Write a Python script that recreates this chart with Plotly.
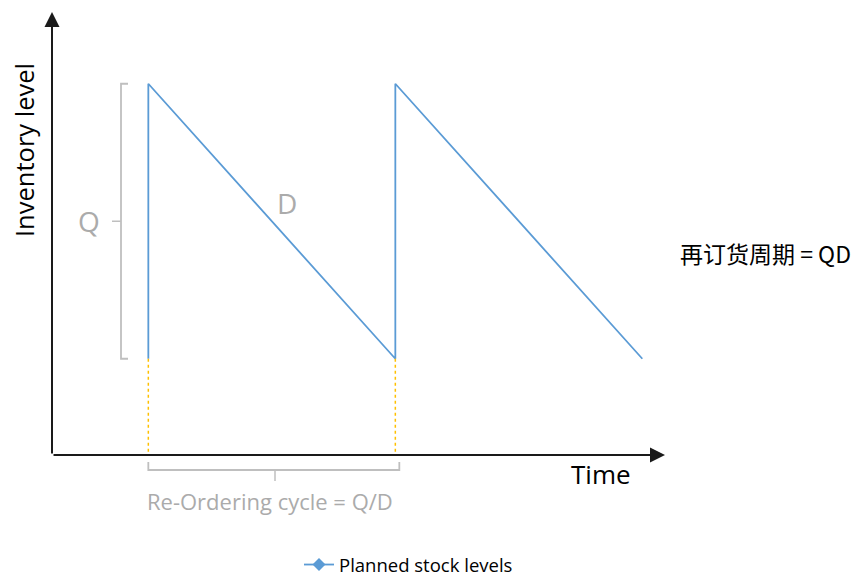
import plotly.graph_objects as go

# ---- data ----
time_pts = [0.39, 0.39, 1.39, 1.39, 2.39]      # time (cycle units)
stock_lvls = [0.35, 1.35, 0.35, 1.35, 0.35]    # inventory level (Q units)
reorder_times = [0.39, 1.39]
series_name = "Planned stock levels"

low = min(stock_lvls)
high = max(stock_lvls)
mid = (low + high) / 2

# page offset (body margin) and pixel scale: 1 time unit = 247 px, 1 stock unit = 275 px
OFF = 8
W, H = 860, 576
XPX, YPX = 247.0, 275.0
x0px, y0px = 52 - OFF, 455 - OFF
xr = [-x0px / XPX, (W - x0px) / XPX]
yr = [-(H - y0px) / YPX, y0px / YPX]

def tx(px):
    return (px - OFF - x0px) / XPX

def ty(py):
    return (y0px - (py - OFF)) / YPX

blue = "#5B9BD5"
gray = "#BFBFBF"
gray_txt = "#ABABAB"
orange = "#FFC000"
font = "Open Sans"

fig = go.Figure()
fig.add_trace(go.Scatter(
    x=time_pts, y=stock_lvls, mode="lines", name=series_name,
    line=dict(color=blue, width=1.8), showlegend=False, hoverinfo="skip"))
# legend entry with diamond markers
fig.add_trace(go.Scatter(
    x=[None], y=[None], mode="lines+markers", name=series_name,
    line=dict(color=blue, width=1.8),
    marker=dict(symbol="diamond", size=10, color=blue)))

shapes = []
# orange dotted drop lines
for t in reorder_times:
    shapes.append(dict(type="line", xref="x", yref="y", x0=t, x1=t, y0=low, y1=0,
                       line=dict(color=orange, width=1.5, dash="dot")))
# Q bracket (left)
bx = tx(121)
shapes.append(dict(type="path", xref="x", yref="y",
                   path=f"M{tx(128)},{high} L{bx},{high} L{bx},{low} L{tx(128)},{low}",
                   line=dict(color=gray, width=1.8)))
shapes.append(dict(type="line", xref="x", yref="y", x0=tx(112), x1=bx, y0=mid, y1=mid,
                   line=dict(color=gray, width=1.5)))
# bottom bracket
by = ty(470)
t0, t1 = reorder_times[0], reorder_times[1] + (tx(399) - tx(395))
shapes.append(dict(type="path", xref="x", yref="y",
                   path=f"M{t0},{ty(462)} L{t0},{by} L{t1},{by} L{t1},{ty(462)}",
                   line=dict(color=gray, width=1.8)))
tm = tx(275)
shapes.append(dict(type="line", xref="x", yref="y", x0=tm, x1=tm, y0=by, y1=ty(481),
                   line=dict(color=gray, width=1.5)))

ann = []
# axes arrows
ann.append(dict(x=0, y=ty(12), ax=0, ay=0, xref="x", yref="y", axref="x", ayref="y",
                showarrow=True, arrowhead=2, arrowsize=1.5, arrowwidth=2,
                arrowcolor="#1a1a1a", standoff=0, text=""))
ann.append(dict(x=tx(665), y=0, ax=0, ay=0, xref="x", yref="y", axref="x", ayref="y",
                showarrow=True, arrowhead=2, arrowsize=1.5, arrowwidth=2,
                arrowcolor="#1a1a1a", standoff=0, text=""))
ann.append(dict(x=tx(24), y=ty(150), text="Inventory level", textangle=-90, showarrow=False,
                font=dict(family=font, size=25.5, color="black")))
ann.append(dict(x=tx(601), y=ty(474), text="Time", showarrow=False,
                font=dict(family=font, size=26, color="black")))
ann.append(dict(x=tx(89), y=ty(221), text="Q", showarrow=False,
                font=dict(family=font, size=28, color=gray_txt)))
ann.append(dict(x=tx(287), y=ty(203), text="D", showarrow=False,
                font=dict(family=font, size=28, color=gray_txt)))
ann.append(dict(x=tx(270), y=ty(501), text="Re-Ordering cycle = Q/D", showarrow=False,
                font=dict(family=font, size=22, color=gray_txt)))
ann.append(dict(x=tx(678), y=ty(253), text="再订货周期 = QD", showarrow=False, xanchor="left",
                font=dict(family="Noto Sans CJK SC", size=23, color="black")))

fig.update_layout(
    width=W, height=H, margin=dict(l=0, r=0, t=0, b=0),
    plot_bgcolor="white", paper_bgcolor="white",
    xaxis=dict(range=xr, visible=False, fixedrange=True),
    yaxis=dict(range=yr, visible=False, fixedrange=True),
    shapes=shapes, annotations=ann,
    legend=dict(orientation="h", x=(299 - OFF) / W, xanchor="left",
                y=1 - (565 - OFF) / H, yanchor="middle",
                font=dict(family=font, size=18.5, color="black"), bgcolor="rgba(0,0,0,0)"),
)
fig.write_html("out.html")
